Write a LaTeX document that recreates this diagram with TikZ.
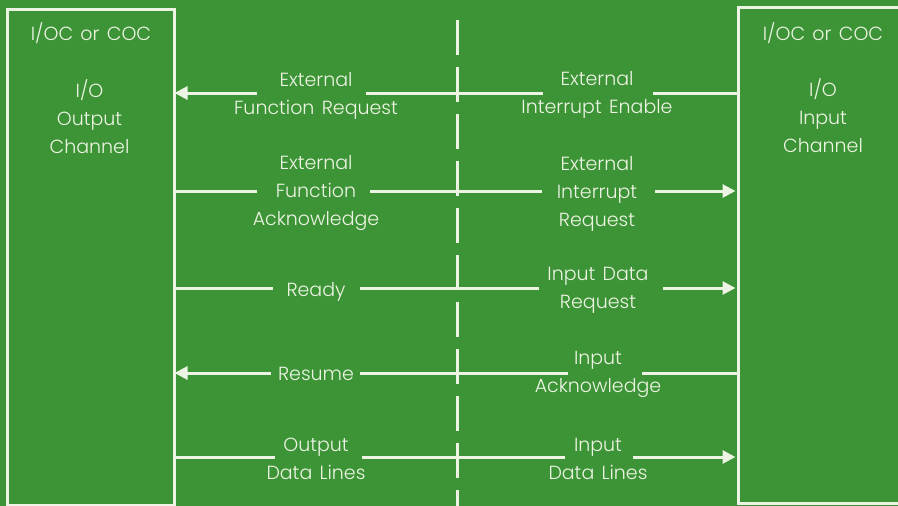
\documentclass[tikz,border=0pt]{standalone}
\usepackage{fontspec}
\setmainfont{Poppins Light}[WordSpace=1.4]
\usetikzlibrary{arrows.meta}
\definecolor{bg}{RGB}{60,148,54}
\definecolor{ink}{RGB}{238,244,228}
\begin{document}
\begin{tikzpicture}[x=1pt,y=-1pt,
  wire/.style={line width=3pt, draw=ink},
  tip/.style={-{Triangle[length=13pt,width=13pt]}},
  chan/.style={draw=ink, line width=3pt, minimum width=167pt, minimum height=496pt,
               anchor=north west, inner sep=0pt},
  lbl/.style={text=ink, font=\fontsize{19}{28}\selectfont, align=center, inner sep=0pt}]
% background
\fill[bg] (0,0) rectangle (898,506);
\useasboundingbox (0,0) rectangle (898,506);

% channel boxes
\node[chan] (out) at (6,8) {};
\node[chan, minimum width=180pt] (in) at (737,6) {};

% box titles
\node[lbl] (outt) at (91,33) {I/OC or COC};
\node[lbl] (outn) at (89.5,116.5) {I/O\\Output\\Channel};
\node[lbl] (int)  at (823,33) {I/OC or COC};
\node[lbl] (inn)  at (823,115.5) {I/O\\Input\\Channel};

% signal labels
\node[lbl] (l1) at (316,96) {External\\Function Request};
\node[lbl] (r1) at (597,95) {External\\Interrupt Enable};
\node[lbl] (l2) at (316,193.5) {External\\Function\\Acknowledge};
\node[lbl] (r2) at (597,193.5) {External\\Interrupt\\Request};
\node[lbl] (l3) at (316,291.5) {Ready};
\node[lbl] (r3) at (598,290.5) {Input Data\\Request};
\node[lbl] (l4) at (316,374) {Resume};
\node[lbl] (r4) at (598,374) {Input\\Acknowledge};
\node[lbl] (l5) at (316,458.5) {Output\\Data Lines};
\node[lbl] (r5) at (598,458.5) {Input\\Data Lines};

% gap ends of each signal line
\coordinate (a1) at (257,93);  \coordinate (b1) at (366,93);
\coordinate (c1) at (543,93);  \coordinate (d1) at (653,93);
\coordinate (a2) at (257,191); \coordinate (b2) at (370,191);
\coordinate (c2) at (542,191); \coordinate (d2) at (655,191);
\coordinate (a3) at (273,288); \coordinate (b3) at (360,288);
\coordinate (c3) at (539,288); \coordinate (d3) at (663,288);
\coordinate (a4) at (271,373); \coordinate (b4) at (360,373);
\coordinate (c4) at (568,373); \coordinate (d4) at (642,373);
\coordinate (a5) at (275,457); \coordinate (b5) at (362,457);
\coordinate (c5) at (565,457); \coordinate (d5) at (633,457);

% separator between the two channels
\coordinate (sepTop) at (457,20);
\coordinate (sepBot) at (457,506);
\draw[wire, dash pattern=on 35pt off 12pt] (sepTop) -- (sepBot);

% External Function Request / Interrupt Enable (input -> output)
\draw[wire] (in.west |- d1) -- (d1);
\draw[wire] (c1) -- (b1);
\draw[wire, tip, shorten >=-1.5pt] (a1) -- (out.east |- a1);

% External Function Acknowledge / Interrupt Request
\draw[wire] (out.east |- a2) -- (a2);
\draw[wire] (b2) -- (c2);
\draw[wire, tip, shorten >=1.5pt] (d2) -- (in.west |- d2);

% Ready / Input Data Request
\draw[wire] (out.east |- a3) -- (a3);
\draw[wire] (b3) -- (c3);
\draw[wire, tip, shorten >=1.5pt] (d3) -- (in.west |- d3);

% Resume / Input Acknowledge
\draw[wire] (in.west |- d4) -- (d4);
\draw[wire] (c4) -- (b4);
\draw[wire, tip, shorten >=-1.5pt] (a4) -- (out.east |- a4);

% Output / Input Data Lines
\draw[wire] (out.east |- a5) -- (a5);
\draw[wire] (b5) -- (c5);
\draw[wire, tip, shorten >=1.5pt] (d5) -- (in.west |- d5);
\end{tikzpicture}
\end{document}
